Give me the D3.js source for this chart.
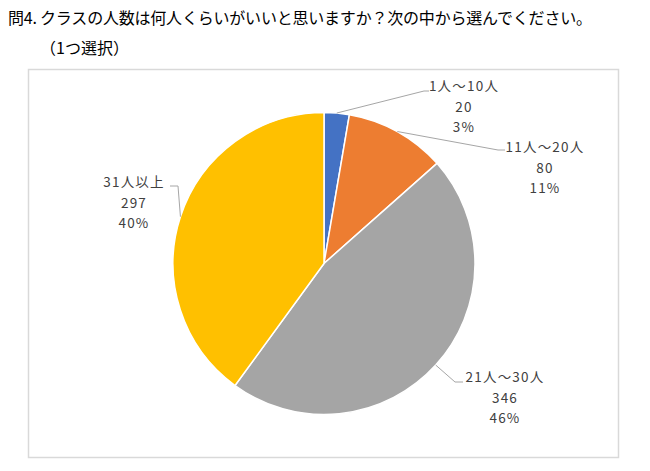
<!DOCTYPE html>
<html>
<head>
<meta charset="utf-8">
<script src="https://cdn.jsdelivr.net/npm/d3@7"></script>
<style>
	body { margin: 0; background: #fff; }
	text { font-family: "Noto Sans CJK JP", "Noto Sans", sans-serif; }
</style>
</head>
<body>
<div id="chart"></div>
<script>
var width = 650;
var height = 471;

var categories = ["1人～10人", "11人～20人", "21人～30人", "31人以上"];
var counts = [20, 80, 346, 297];
var percents = ["3%", "11%", "46%", "40%"];
var colors = ["#4472c4", "#ed7d31", "#a5a5a5", "#ffc000"];

// where Excel put each label (centre x, first line y) and the elbow of its leader
var labelPos = [[464, 86], [545, 147], [505, 377], [134, 182]];
var elbows = [[424, 91], [498, 150], [455, 382], [178, 186]];
var lineEnds = [[429, 91], [505, 150], [463, 382], [170, 186]];

var svg = d3.select("#chart")
	.append("svg")
	.attr("width", width)
	.attr("height", height);

svg.append("text")
	.attr("x", 8)
	.attr("y", 24)
	.attr("font-size", 16)
	.attr("fill", "#000")
	.attr("textLength", 584)
	.text("問4. クラスの人数は何人くらいがいいと思いますか？次の中から選んでください。");

svg.append("text")
	.attr("x", 40)
	.attr("y", 54)
	.attr("font-size", 16)
	.attr("fill", "#000")
	.text("（1つ選択）");

// chart frame
svg.append("rect")
	.attr("x", 28.5)
	.attr("y", 69.5)
	.attr("width", 590)
	.attr("height", 388)
	.attr("fill", "#fff")
	.attr("stroke", "#d9d9d9")
	.attr("stroke-width", 1.5);

var cx = 324, cy = 263.5, radius = 151;

var pie = d3.pie().sort(null).value(function (d) { return d; });
var arcs = pie(counts);
var arc = d3.arc().innerRadius(0).outerRadius(radius);

var g = svg.append("g").attr("transform", "translate(" + cx + "," + cy + ")");

g.selectAll("path")
	.data(arcs)
	.enter()
	.append("path")
	.attr("d", arc)
	.attr("fill", function (d, i) { return colors[i]; })
	.attr("stroke", "#fff")
	.attr("stroke-width", 1.5);

// leader lines from the middle of each slice edge
arcs.forEach(function (d, i) {
	var a = (d.startAngle + d.endAngle) / 2;
	var px = cx + radius * Math.sin(a);
	var py = cy - radius * Math.cos(a);
	svg.append("polyline")
		.attr("points", [[px, py], elbows[i], lineEnds[i]].map(function (p) { return p.join(","); }).join(" "))
		.attr("fill", "none")
		.attr("stroke", "#a6a6a6")
		.attr("stroke-width", 1);

	var t = svg.append("text")
		.attr("text-anchor", "middle")
		.attr("font-size", 13.5)
		.attr("fill", "#404040")
		.attr("letter-spacing", 1.2);
	[categories[i], counts[i], percents[i]].forEach(function (s, k) {
		t.append("tspan")
			.attr("x", labelPos[i][0])
			.attr("y", labelPos[i][1] + 5 + k * 20.5)
			.text(s);
	});
});
</script>
</body>
</html>
